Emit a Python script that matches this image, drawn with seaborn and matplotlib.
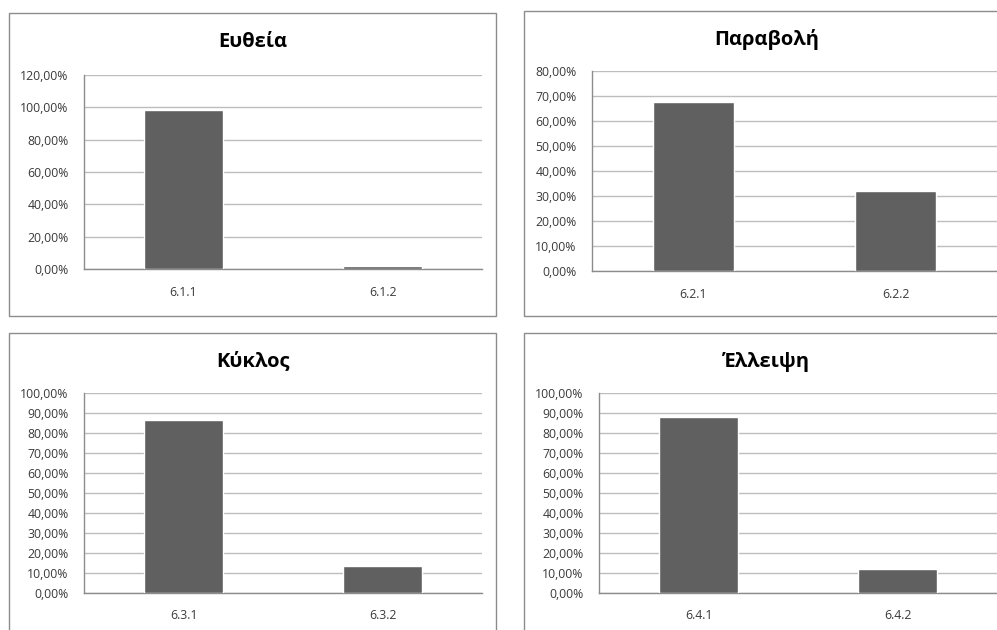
import matplotlib
matplotlib.use("Agg")
import matplotlib.pyplot as plt
from matplotlib.patches import Rectangle
from matplotlib.ticker import FuncFormatter, MultipleLocator
import seaborn as sns
import pandas as pd

sns.set_theme(style="white")
plt.rcParams["font.family"] = ["Open Sans", "DejaVu Sans"]

# Shares of answers per question (fractions of 1)
titles = ["Ευθεία", "Παραβολή", "Κύκλος", "Έλλειψη"]
cats_line = ["6.1.1", "6.1.2"]
cats_parabola = ["6.2.1", "6.2.2"]
cats_circle = ["6.3.1", "6.3.2"]
cats_ellipse = ["6.4.1", "6.4.2"]
vals_line = [0.984, 0.016]
vals_parabola = [0.678, 0.322]
vals_circle = [0.864, 0.136]
vals_ellipse = [0.880, 0.120]
y_max = [1.2, 0.8, 1.0, 1.0]
y_step = [0.2, 0.1, 0.1, 0.1]

W, H = 997, 630
fig = plt.figure(figsize=(W / 100, H / 100), dpi=100)
fig.patch.set_facecolor("white")

# pixel geometry: (box left, box top, box w, box h), (plot left, plot top, plot w, plot h), title (x, y)
layout = [
    ((9, 13, 487, 303), (84, 75, 398, 194), (253, 42)),
    ((524, 11, 487, 305), (592, 71.3, 405, 199.7), (767, 40)),
    ((9, 333, 487, 303), (84, 392.7, 398, 200), (253, 361.5)),
    ((524, 333, 487, 303), (599, 392.7, 398, 200), (767, 361.5)),
]

panels = [
    (cats_line, vals_line),
    (cats_parabola, vals_parabola),
    (cats_circle, vals_circle),
    (cats_ellipse, vals_ellipse),
]


def pct(v, _):
    return f"{v * 100:.2f}%".replace(".", ",")


for i, ((cats, vals), (box, plot, tpos)) in enumerate(zip(panels, layout)):
    bx, by, bw, bh = box
    fig.patches.append(Rectangle((bx / W, 1 - (by + bh) / H), bw / W, bh / H,
                                 transform=fig.transFigure, fill=False,
                                 edgecolor="#8c8c8c", linewidth=1.0, zorder=0))
    px, py, pw, ph = plot
    ax = fig.add_axes([px / W, 1 - (py + ph) / H, pw / W, ph / H])
    df = pd.DataFrame({"q": cats, "share": vals})
    sns.barplot(data=df, x="q", y="share", color="#606060", width=0.4,
                saturation=1, ax=ax, zorder=3)
    ax.set_ylim(0, y_max[i])
    ax.set_xlim(-0.5, 1.5)
    ax.yaxis.set_major_locator(MultipleLocator(y_step[i]))
    ax.yaxis.set_major_formatter(FuncFormatter(pct))
    ax.grid(axis="y", color="#bdbdbd", linewidth=1.0, zorder=0)
    ax.set_axisbelow(True)
    ax.set_xlabel("")
    ax.set_ylabel("")
    for s in ("top", "right"):
        ax.spines[s].set_visible(False)
    for s in ("left", "bottom"):
        ax.spines[s].set_color("#8c8c8c")
        ax.spines[s].set_linewidth(1.0)
    ax.tick_params(axis="y", length=0, pad=11, labelsize=8.8, labelcolor="#3a3a3a")
    ax.tick_params(axis="x", length=0, pad=12, labelsize=8.8, labelcolor="#3a3a3a")
    fig.text(tpos[0] / W, 1 - tpos[1] / H, titles[i], ha="center", va="center",
             fontsize=14.5, fontweight="bold", color="black")

fig.savefig("out.png", dpi=100, facecolor="white")
